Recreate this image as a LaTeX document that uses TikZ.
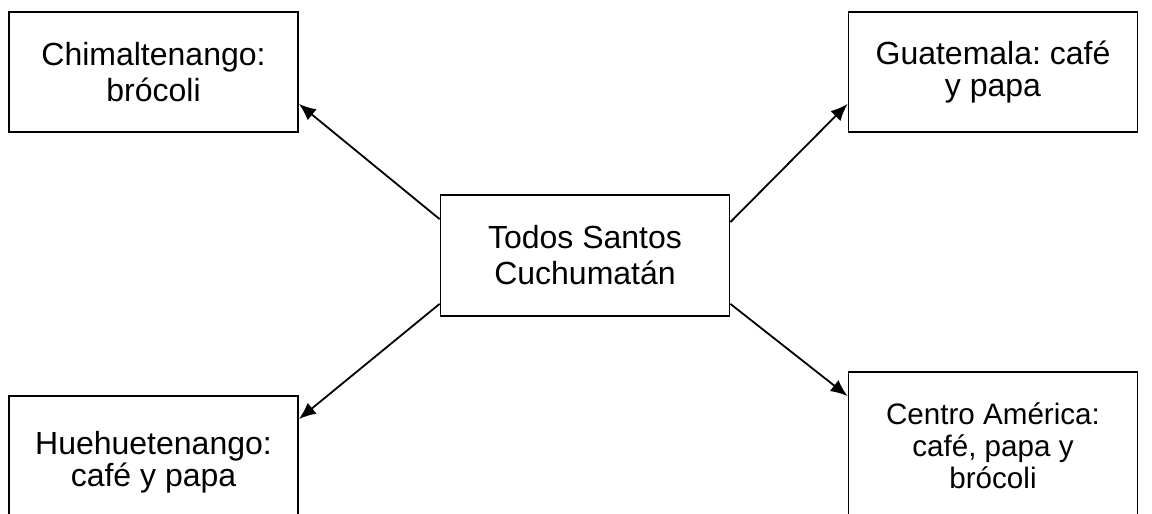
\documentclass[tikz,border=0pt]{standalone}
\usepackage{fontspec}
\setmainfont{Liberation Sans}
\frenchspacing
\usetikzlibrary{arrows.meta, positioning}

\begin{document}
\begin{tikzpicture}[x=0.5pt, y=-0.5pt,
  cuadro/.style={draw, line width=0.9pt, align=center, inner sep=0pt, minimum width=144.5pt, font=\fontsize{16}{18}\selectfont},
  apretado/.style={font=\fontsize{16}{16}\selectfont},
  flecha/.style={-{Latex[length=8.5pt,width=7pt]}, line width=0.9pt}]
\fill [white] (0,0) rectangle (1152,514);
\useasboundingbox (0,0) rectangle (1152,514);
\node [cuadro, minimum height=60.5pt] (todos) at (585,255.5) {Todos Santos\\Cuchumatán};
\node [cuadro, minimum height=60pt] (chim) at (153.5,72) {Chimaltenango:\\brócoli};
\node [cuadro, apretado, minimum height=60pt] (guat) at (993,72) {Guatemala: café\\y papa};
\node [cuadro, apretado, minimum height=66pt] (hueh) at (153.5,462) {Huehuetenango:\\café y papa};
\node [cuadro, font=\fontsize{14.8}{16}\selectfont, minimum height=74pt] (centro) at (993,446) {Centro América:\\café, papa y\\brócoli};
\draw [flecha] ([yshift=-12.5pt]todos.north west) -- ([yshift=14.5pt]chim.south east);
\draw [flecha] ([yshift=-14pt]todos.north east) -- ([yshift=14.5pt]guat.south west);
\draw [flecha] ([yshift=6.5pt]todos.south west) -- ([yshift=-12pt]hueh.north east);
\draw [flecha] ([yshift=6.5pt]todos.south east) -- ([yshift=-12.5pt]centro.north west);
\end{tikzpicture}
\end{document}
